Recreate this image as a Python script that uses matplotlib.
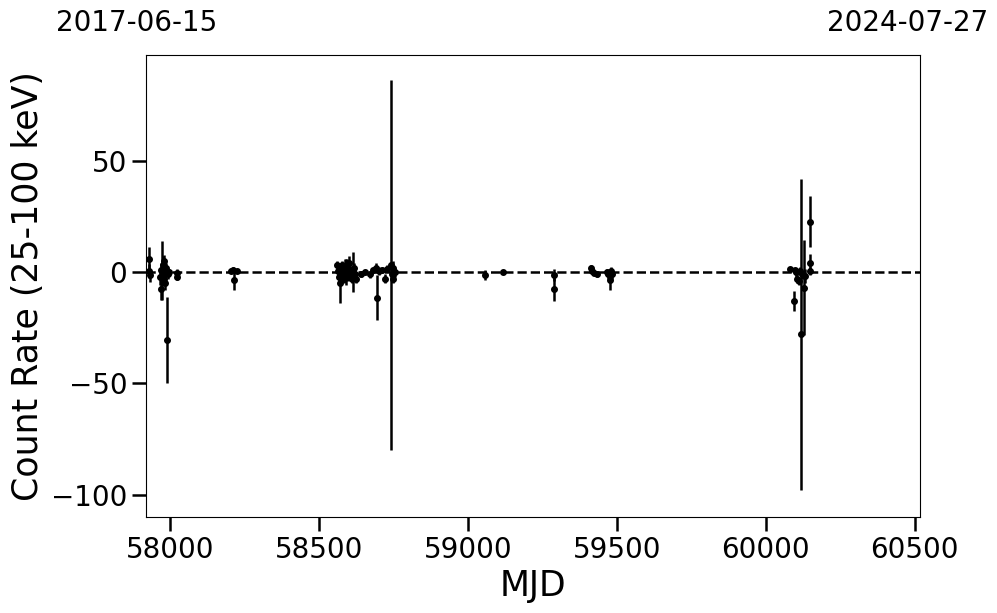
import matplotlib
matplotlib.use("Agg")
import matplotlib.pyplot as plt

# MJD, count rate (25-100 keV) and 1-sigma errors
mjd = [57928, 57930, 57931, 57965, 57968, 57970, 57972, 57975, 57978, 57980,
       57982, 57984, 57986, 57989, 57992, 57995, 58022, 58024,
       58205, 58210, 58215, 58225,
       58562, 58565, 58568, 58572, 58575, 58578, 58580, 58583, 58588, 58590,
       58595, 58598, 58600, 58603, 58606, 58610, 58613, 58616, 58620, 58625,
       58640, 58655, 58670, 58680, 58692, 58696, 58700, 58712, 58720, 58728,
       58742, 58745, 58748, 58750, 58755,
       59057, 59117, 59288, 59290, 59412, 59418, 59425, 59432,
       59468, 59472, 59476, 59480, 59483,
       60082, 60094, 60098, 60102, 60106, 60110, 60114, 60118, 60122, 60129,
       60133, 60147, 60148, 60149]
rate = [0.5, 5.8, -1.5, -2, 1, -7.5, 0.7, 3, -3, 5,
        -1, -5, 2, -30.5, -1, 0, -0.5, -2,
        0.5, 1, -3.5, 0.5,
        3, 0.5, -2, -5, 1, 3, -1, -3, 2, 0,
        3, -2, 4, 1, -1, -3, 0, 2, -1, -3,
        -1, 0, -1, 1, 2, -11.5, 0.5, 1, -3, 1.5,
        3.3, -1, 2, -3, 0,
        -1.3, 0, -7.8, -1.3, 2, 0.5, -0.5, -1,
        0, -1, -3.5, 0.5, -1,
        1.2, -13, 1, 0, -3, -4, 0.5, -28, -1, -7,
        -1.8, 3.9, 0.5, 22.7]
err = [3, 5.5, 3, 4, 3, 5, 13.3, 4, 3, 2.5,
       2, 3, 2, 19.5, 2, 1.5, 2, 1.5,
       1, 1.5, 4.5, 1,
       2, 3, 3, 9, 3, 2, 3, 2, 4, 6,
       3, 2, 3, 2, 3, 2, 9, 2, 2, 2,
       1, 1, 1.5, 1, 2, 10, 2, 1.5, 2, 1.5,
       83, 3, 3, 2, 2,
       2.3, 0.8, 5, 2.5, 1, 1, 1, 1,
       1.5, 2, 4.5, 2, 2,
       1, 4.3, 1, 2, 2, 2, 2, 70, 2, 21.3,
       3, 4, 2, 11.3]

start_mjd, end_mjd = 57919, 60518
start_date, end_date = "2017-06-15", "2024-07-27"

fig = plt.figure(figsize=(9.97, 6.13), dpi=100)
ax = fig.add_axes([0.1464, 0.1566, 0.7764, 0.7537])

ax.errorbar(mjd, rate, yerr=err, fmt='o', color='k', markersize=4,
            elinewidth=1.8, capsize=0)
ax.axhline(0, color='k', linestyle='--', linewidth=1.8)

ax.set_xlim(start_mjd, end_mjd)
ax.set_ylim(-110, 97.5)
ax.set_xticks([58000, 58500, 59000, 59500, 60000, 60500])
ax.set_yticks([-100, -50, 0, 50])
ax.tick_params(axis='both', labelsize=20, length=10, width=1.8)

ax.set_xlabel("MJD", fontsize=25)
ax.set_ylabel("Count Rate (25-100 keV)", fontsize=25)

# calendar dates of the axis ends
ax.text(-0.0116, 1.038, start_date, transform=ax.transAxes, ha='center',
        va='bottom', fontsize=20)
ax.text(0.9845, 1.038, end_date, transform=ax.transAxes, ha='center',
        va='bottom', fontsize=20)

fig.savefig("out.png", dpi=100)
